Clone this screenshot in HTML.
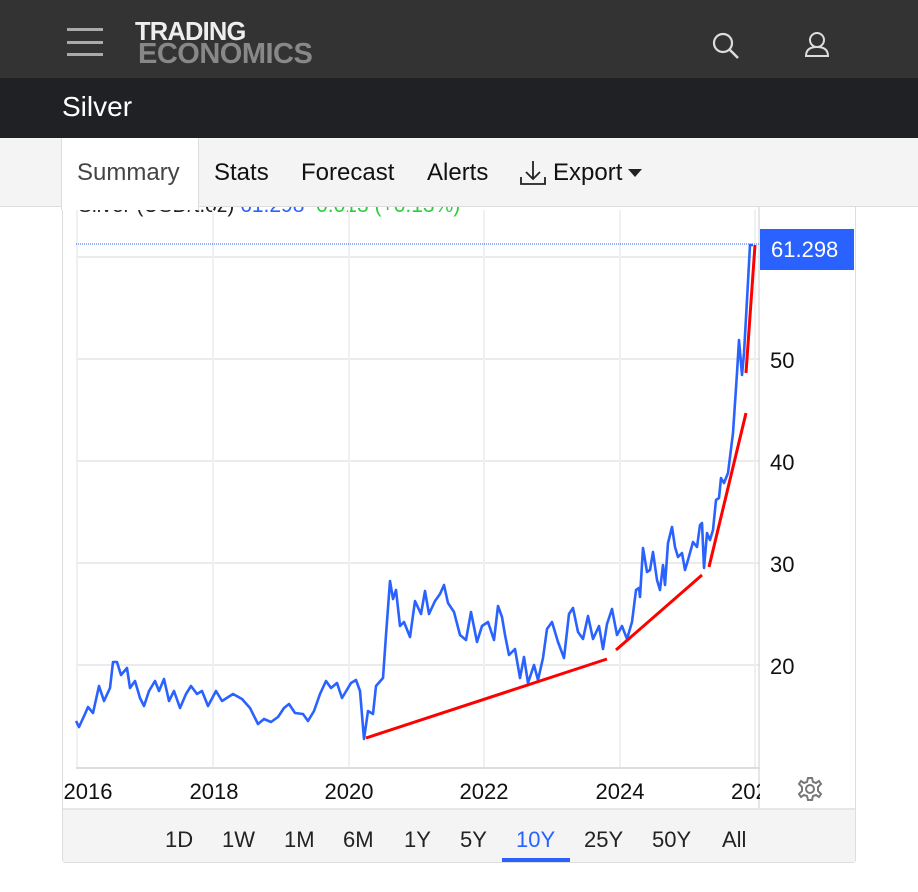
<!DOCTYPE html>
<html><head><meta charset="utf-8"><style>
*{margin:0;padding:0;box-sizing:border-box}
body{width:918px;height:892px;background:#fff;font-family:"Liberation Sans",Arial,sans-serif;position:relative;overflow:hidden}
.abs{position:absolute}
</style></head><body>
<div class="abs" style="left:0;top:0;width:918px;height:78px;background:#333"></div>
<div class="abs" style="left:67px;top:28px;width:36px;height:3px;background:#aaa"></div>
<div class="abs" style="left:67px;top:41px;width:36px;height:3px;background:#aaa"></div>
<div class="abs" style="left:67px;top:53px;width:36px;height:3px;background:#aaa"></div>
<div class="abs" style="left:135px;top:19px;font-weight:bold;font-size:26px;line-height:24px;color:#eee;letter-spacing:-0.8px;transform:scaleX(0.98);transform-origin:left">TRADING</div>
<div class="abs" style="left:138px;top:41px;font-weight:bold;font-size:29px;line-height:27px;color:#888;letter-spacing:-0.5px">ECONOMICS</div>
<svg class="abs" style="left:700px;top:25px" width="150" height="40">
<circle cx="23" cy="18" r="9" fill="none" stroke="#ddd" stroke-width="2.2"/>
<line x1="30" y1="25" x2="38" y2="33" stroke="#ddd" stroke-width="2.5"/>
<circle cx="117" cy="15" r="7" fill="none" stroke="#ddd" stroke-width="2"/>
<path d="M106 31 Q106 22 117 22 Q128 22 128 31 Z" fill="none" stroke="#ddd" stroke-width="2"/>
</svg>
<div class="abs" style="left:0;top:78px;width:918px;height:60px;background:#202124"></div>
<div class="abs" style="left:62px;top:91px;color:#fff;font-size:28px">Silver</div>

<div class="abs" style="left:62px;top:200px;width:794px;height:663px;border:1px solid #ddd;border-radius:3px"></div>
<div class="abs" style="left:78px;top:194px;font-size:21px;color:#222;white-space:nowrap">Silver (USD/t.oz) <span style="color:#2962ff">61.298</span> &nbsp;<span style="color:#2ecc40">0.013 (+0.13%)</span></div>

<svg class="abs" style="left:0;top:0" width="918" height="892">
<g stroke="#ebebeb" stroke-width="2">
<line x1="76" y1="665" x2="760" y2="665"/><line x1="76" y1="563" x2="760" y2="563"/>
<line x1="76" y1="461" x2="760" y2="461"/><line x1="76" y1="359" x2="760" y2="359"/>
<line x1="76" y1="257" x2="760" y2="257"/>
</g>
<g stroke="#eef0f4" stroke-width="2">
<line x1="77" y1="210" x2="77" y2="768"/><line x1="213" y1="210" x2="213" y2="768"/>
<line x1="349" y1="210" x2="349" y2="768"/><line x1="484" y1="210" x2="484" y2="768"/>
<line x1="620" y1="210" x2="620" y2="768"/><line x1="755" y1="210" x2="755" y2="768"/>
</g>
<line x1="76" y1="768" x2="760" y2="768" stroke="#ddd" stroke-width="2"/>
<line x1="759" y1="207" x2="759" y2="808" stroke="#ddd" stroke-width="1.5"/>
<line x1="62" y1="809" x2="856" y2="809" stroke="#ddd" stroke-width="1.5"/>
<line x1="76" y1="244" x2="760" y2="244" stroke="#2962ff" stroke-width="1" stroke-dasharray="1,1"/>
<path fill="none" stroke="#2962ff" stroke-width="2.6" stroke-linejoin="round" d="M76,721 L79,727 85,714 88,707 93,713 99,686 104,701 110,688 113,662 117,662 121,675 127,668 130,688 135,681 140,698 144,706 149,691 155,681 159,691 164,679 169,701 174,691 180,708 186,694 191,686 197,694 202,691 208,706 216,691 222,701 233,694 242,699 250,708 258,724 264,719 271,722 278,717 284,708 289,704 295,713 303,714 308,721 314,711 320,694 326,681 331,688 337,683 342,698 351,683 356,680 360,691 364,739 368,711 373,714 376,686 383,678 386,635 390,581 393,599 396,590 400,626 404,622 410,637 415,601 421,614 425,591 429,614 435,601 440,594 444,585 448,603 454,612 460,635 466,640 471,612 477,642 482,626 488,622 494,640 498,606 502,617 505,635 509,655 515,649 520,678 524,657 528,683 534,665 538,680 543,658 547,629 552,622 558,642 564,658 569,614 573,608 578,632 583,639 588,616 593,639 599,626 603,649 607,624 612,609 617,635 622,626 627,639 632,622 636,590 639,588 640,597 643,548 647,572 650,570 653,552 657,580 660,590 663,565 665,585 668,543 672,527 675,547 678,557 682,553 685,570 688,560 693,542 697,547 700,525 702,523 704,568 707,533 710,540 713,530 716,500 719,498 721,478 724,483 728,473 733,433 737,373 739,340 742,375 744,353 747,300 750,245 753,245"/>
<g stroke="#ff0000" stroke-width="3" fill="none">
<line x1="366" y1="738" x2="607" y2="659"/>
<line x1="616" y1="650" x2="702" y2="575"/>
<line x1="709" y1="567" x2="746" y2="413"/>
<line x1="746" y1="373" x2="755" y2="245"/>
</g>
<rect x="760" y="229" width="94" height="41" fill="#2962ff"/>
<g font-family="Liberation Sans,Arial,sans-serif" font-size="22" fill="#111">
<text x="771" y="257" fill="#fff">61.298</text>
<text x="770" y="368">50</text><text x="770" y="470">40</text>
<text x="770" y="572">30</text><text x="770" y="674">20</text>
<text x="88" y="799" text-anchor="middle">2016</text>
<text x="214" y="799" text-anchor="middle">2018</text>
<text x="349" y="799" text-anchor="middle">2020</text>
<text x="484" y="799" text-anchor="middle">2022</text>
<text x="620" y="799" text-anchor="middle">2024</text>
<text x="731" y="799">202</text>
</g>
<rect x="760" y="775" width="30" height="30" fill="#fff"/>
<g transform="translate(810,789)" fill="none" stroke="#777" stroke-width="2">
<circle r="4"/>
<path d="M-2,-11 L2,-11 3,-7 6,-6 9,-8 11,-5 8,-2 8,2 11,5 9,8 6,6 3,7 2,11 -2,11 -3,7 -6,6 -9,8 -11,5 -8,2 -8,-2 -11,-5 -9,-8 -6,-6 -3,-7 Z"/>
</g>
</svg>

<div class="abs" style="left:63px;top:810px;width:792px;height:52px;background:#f4f4f4"></div>
<div class="abs" style="left:0;top:827px;width:918px;font-size:22px;color:#222">
<span class="abs" style="left:165px">1D</span><span class="abs" style="left:222px">1W</span><span class="abs" style="left:284px">1M</span><span class="abs" style="left:343px">6M</span><span class="abs" style="left:404px">1Y</span><span class="abs" style="left:460px">5Y</span><span class="abs" style="left:516px;color:#2962ff">10Y</span><span class="abs" style="left:584px">25Y</span><span class="abs" style="left:652px">50Y</span><span class="abs" style="left:722px">All</span>
</div>
<div class="abs" style="left:502px;top:858px;width:68px;height:4px;background:#2962ff"></div>

<div class="abs" style="left:0;top:138px;width:918px;height:69px;background:#f4f4f4;border-bottom:1.5px solid #ddd"></div>
<div class="abs" style="left:61px;top:138px;width:138px;height:72px;background:#fff;border-left:1px solid #ddd;border-right:1px solid #ddd"></div>
<div class="abs" style="left:0;top:159px;width:918px;font-size:24px;color:#111">
<span class="abs" style="left:77px;color:#444">Summary</span><span class="abs" style="left:214px">Stats</span><span class="abs" style="left:301px">Forecast</span><span class="abs" style="left:427px">Alerts</span><span class="abs" style="left:553px">Export</span>
</div>
<svg class="abs" style="left:518px;top:158px" width="130" height="30">
<path d="M15 3 V21 M8 14 L15 21 22 14 M3 19 V26 H27 V19" fill="none" stroke="#222" stroke-width="1.8"/>
<path d="M110 11 L124 11 117 19 Z" fill="#222"/>
</svg>
</body></html>
